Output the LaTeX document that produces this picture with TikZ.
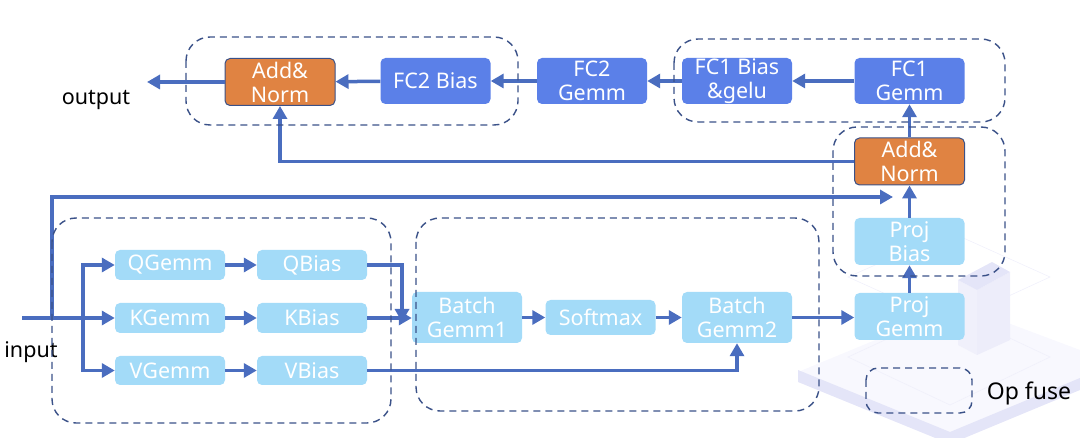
\documentclass[tikz,border=0pt]{standalone}
\usepackage{fontspec}
\setmainfont{Noto Sans}
\usetikzlibrary{arrows.meta}
\definecolor{lb}{HTML}{A3DBF8}
\definecolor{db}{HTML}{5B80E8}
\definecolor{org}{HTML}{E08342}
\definecolor{arr}{HTML}{4A6DBF}
\definecolor{dsh}{HTML}{3A5188}
\definecolor{lav}{HTML}{E4E5F8}
\definecolor{lav2}{HTML}{F8F8FE}
\definecolor{lav3}{HTML}{F0F0FB}
\definecolor{lav4}{HTML}{EDEDFA}
\begin{document}
\begin{tikzpicture}[x=1pt,y=-1pt,
 box/.style={rounded corners=5pt, text=white, align=center, font=\fontsize{21.5}{24}\selectfont, inner sep=0pt, minimum width=110pt},
 lbox/.style={box, fill=lb},
 dbox/.style={box, fill=db},
 obox/.style={box, fill=org, draw=dsh, line width=1pt},
 ar/.style={draw=arr, line width=3.5pt, -{Triangle[length=13pt,width=14pt]}},
 grp/.style={draw=dsh, line width=1.4pt, dash pattern=on 7pt off 5pt, rounded corners=24pt},
 lbl/.style={text=black, font=\fontsize{21.5}{24}\selectfont, inner sep=0pt},
]
\useasboundingbox (0,0) rectangle (1080,438);
% faint background decoration
\fill[lav2] (798,372) -- (960,305) -- (1080,350) -- (1080,382) -- (950,438) -- cycle;
\fill[lav] (798,370) -- (950,432) -- (1080,378) -- (1080,390) -- (950,444) -- (798,382) -- cycle;
\draw[lav3, line width=0.6pt] (848,357) -- (950,310) -- (1050,357) -- (950,405) -- cycle;
\draw[lav3, line width=0.6pt] (848,277) -- (950,232) -- (1050,277) -- (950,323) -- cycle;
\fill[lav3] (958,280) -- (977,290) -- (977,355) -- (958,345) -- cycle;
\fill[lav4] (977,290) -- (1010,272) -- (1010,340) -- (977,355) -- cycle;
\fill[lav] (958,280) -- (992,262) -- (1010,272) -- (977,290) -- cycle;

% nodes
\node[lbox, minimum height=30pt] (qg) at (170,265) {QGemm};
\node[lbox, minimum height=30pt] (qb) at (312,265) {QBias};
\node[lbox, minimum height=30pt] (kg) at (170,318) {KGemm};
\node[lbox, minimum height=30pt] (kb) at (312,318) {KBias};
\node[lbox, minimum height=29pt] (vg) at (170,370.5) {VGemm};
\node[lbox, minimum height=29pt] (vb) at (312,370.5) {VBias};
\node[lbox, minimum height=51pt] (bg1) at (467,317.5) {Batch\\Gemm1};
\node[lbox, minimum height=35pt] (sm) at (600.5,317.5) {Softmax};
\node[lbox, minimum height=51pt] (bg2) at (737,317.5) {Batch\\Gemm2};
\node[lbox, minimum height=47pt] (pg) at (909.5,316.5) {Proj\\Gemm};
\node[lbox, minimum height=47pt] (pb) at (909.5,241.5) {Proj\\Bias};
\node[obox, minimum height=47pt] (an1) at (909.5,161.5) {Add\&\\Norm};
\node[dbox, minimum height=46pt] (fc1g) at (909.5,81) {FC1\\Gemm};
\node[dbox, minimum height=46pt] (fc1b) at (737,81) {FC1 Bias\\\&gelu};
\node[dbox, minimum height=46pt] (fc2g) at (592,81) {FC2\\Gemm};
\node[dbox, minimum height=46pt] (fc2b) at (435.5,81) {FC2 Bias};
\node[obox, minimum height=47pt] (an2) at (280,82) {Add\&\\Norm};

\node[lbl] (inp) at (31,352) {input};
\node[lbl] (outl) at (96,100) {output};
\node[lbl, font=\fontsize{23}{26}\selectfont] (opf) at (1029,393) {Op fuse};

\coordinate (in0) at (22,318);
\coordinate (br) at (83,318);
\coordinate (sk) at (52,318);
\coordinate (skend) at (893,197);
\coordinate (qend) at (402,322);
\coordinate (outp) at (147,82);

% connectors
\draw[ar] (in0) -- (kg.west);
\draw[ar] (br) |- (qg.west);
\draw[ar] (br) |- (vg.west);
\draw[ar] (qg) -- (qb);
\draw[ar] (kg) -- (kb);
\draw[ar] (vg) -- (vb);
\draw[ar] (qb.east) -| (qend);
\draw[ar] (kb.east) -- (bg1.west |- kb.east);
\draw[ar] (bg1) -- (sm);
\draw[ar] (sm) -- (bg2);
\draw[ar] (vb.east) -| (bg2.south);
\draw[ar] (bg2.east) -- (pg.west |- bg2.east);
\draw[ar] (pg) -- (pb);
\draw[ar] (pb) -- (an1);
\draw[ar] (sk) |- (skend);
\draw[ar] (an1.west) -| (an2.south);
\draw[ar] (an1) -- (fc1g);
\draw[ar] (fc1g) -- (fc1b);
\draw[ar] (fc1b) -- (fc2g);
\draw[ar] (fc2g) -- (fc2b);
\draw[ar] (fc2b) -- (an2);
\draw[ar] (an2.west) -- (outp);

% fusion groups
\draw[grp] (52,218) rectangle (391,423);
\draw[grp] (416,218) rectangle (819,411);
\draw[grp] (833,127) rectangle (1005,276);
\draw[grp] (186,37) rectangle (518,125);
\draw[grp] (674,39) rectangle (1005,122);
\draw[grp, rounded corners=12pt] (866,368) rectangle (972,413);
\end{tikzpicture}
\end{document}
